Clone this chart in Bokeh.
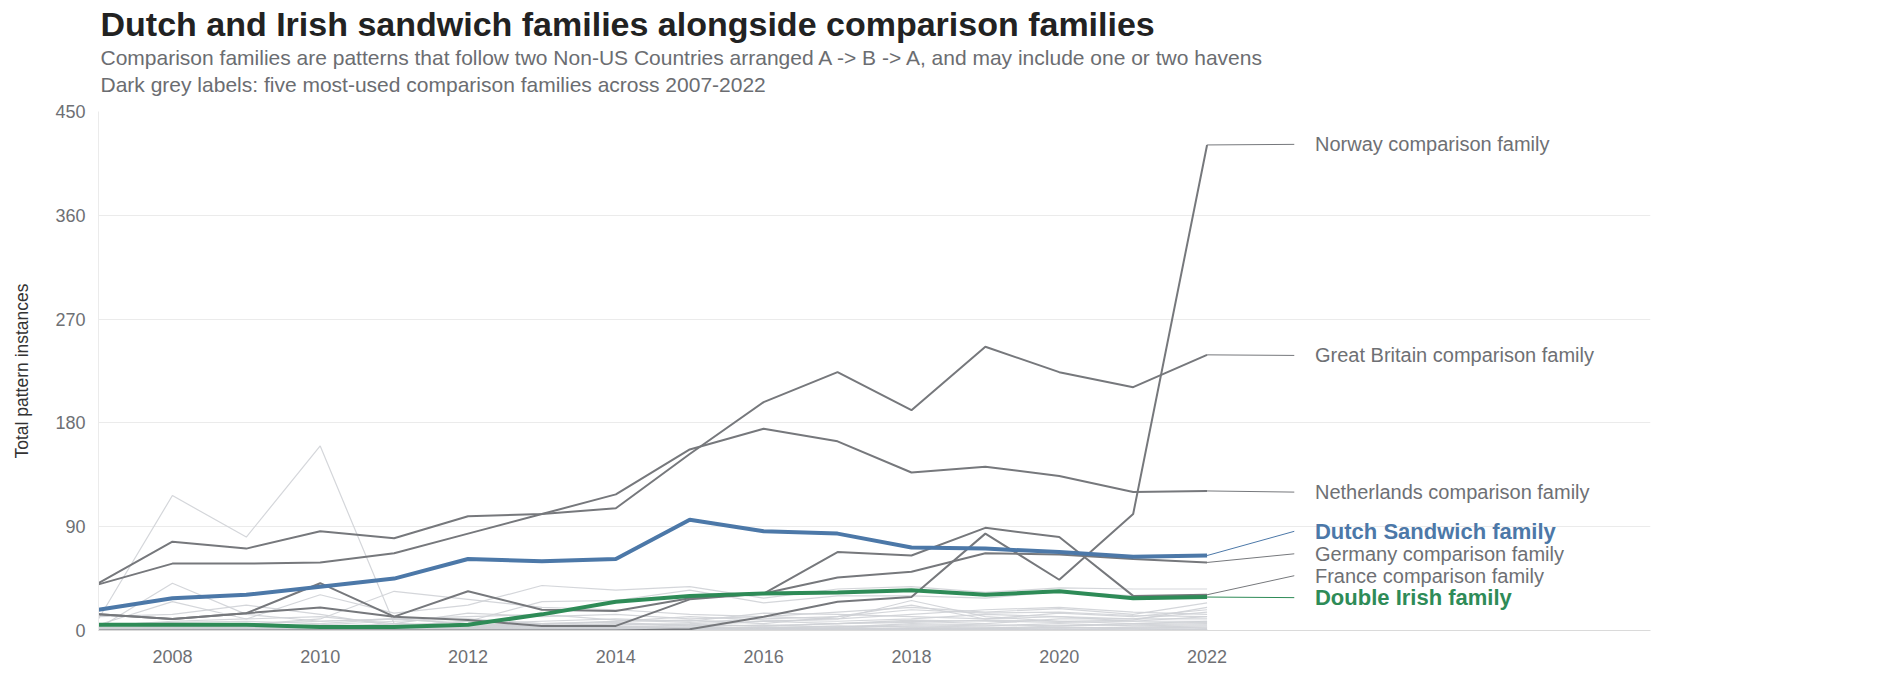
from bokeh.plotting import figure
from bokeh.models import Range1d, FixedTicker, ColumnDataSource, Title
from bokeh.core.properties import value
from bokeh.embed import file_html
from bokeh.resources import INLINE

# ---------------- data ----------------
years = list(range(2007, 2023))

norway = [0, 0, 0, 0, 0, 0, 0, 0, 1, 12, 25, 29, 84, 44, 101, 421]
great_britain = [41, 77, 71, 86, 80, 99, 101, 106, 153, 198, 224, 191, 246, 224, 211, 239]
netherlands = [40, 58, 58, 59, 67, 84, 101, 118, 157, 175, 164, 137, 142, 134, 120, 121]
germany = [14, 10, 15, 20, 12, 9, 4, 4, 27, 32, 46, 51, 67, 66, 62, 59]
france = [14, 10, 15, 41, 12, 34, 18, 17, 28, 32, 68, 65, 89, 81, 30, 31]
dutch_sandwich = [18, 28, 31, 38, 45, 62, 60, 62, 96, 86, 84, 72, 71, 68, 64, 65]
double_irish = [5, 5, 5, 3, 3, 5, 14, 25, 30, 32, 33, 35, 31, 34, 28, 29]

# other (unlabelled) comparison families
others = [
    [10, 117, 81, 160, 6, 4, 3, 2, 2, 1, 1, 2, 1, 1, 0, 1],
    [2, 41, 14, 8, 10, 6, 4, 3, 2, 2, 1, 1, 1, 1, 0, 1],
    [5, 25, 10, 31, 15, 22, 39, 35, 38, 28, 36, 38, 33, 37, 36, 36],
    [0, 3, 5, 10, 34, 27, 20, 18, 14, 12, 10, 26, 12, 8, 9, 20],
    [12, 14, 22, 14, 4, 8, 25, 26, 35, 24, 30, 30, 28, 34, 30, 28],
    [4, 8, 10, 12, 6, 15, 12, 14, 10, 12, 16, 20, 16, 19, 14, 24],
    [2, 4, 6, 8, 10, 6, 8, 10, 8, 15, 14, 12, 10, 15, 12, 18],
    [1, 2, 3, 5, 4, 8, 6, 5, 6, 8, 10, 14, 18, 20, 16, 14],
    [6, 5, 4, 3, 6, 4, 5, 8, 9, 6, 12, 22, 10, 12, 8, 12],
    [0, 1, 2, 2, 3, 2, 4, 3, 5, 4, 6, 8, 6, 10, 10, 10],
    [3, 3, 2, 4, 2, 3, 2, 4, 3, 5, 3, 6, 5, 4, 6, 8],
    [1, 0, 1, 1, 2, 1, 2, 2, 3, 2, 4, 3, 2, 4, 5, 6],
    [0, 2, 1, 3, 1, 2, 1, 3, 2, 3, 2, 4, 3, 2, 3, 4],
    [2, 1, 2, 1, 1, 1, 0, 1, 1, 2, 1, 2, 1, 3, 2, 2],
    [0, 0, 1, 0, 1, 0, 1, 1, 0, 1, 1, 1, 2, 1, 1, 1],
    [4, 6, 3, 5, 8, 10, 6, 8, 12, 9, 8, 10, 14, 12, 10, 16],
    [0, 1, 0, 2, 0, 1, 2, 0, 1, 0, 2, 1, 0, 1, 2, 3],
    [5, 7, 8, 6, 10, 12, 14, 9, 7, 10, 12, 18, 15, 16, 13, 12],
    [1, 3, 4, 2, 5, 3, 6, 7, 4, 8, 6, 9, 8, 7, 8, 8],
    [0, 0, 0, 1, 1, 2, 1, 2, 2, 3, 3, 5, 4, 6, 4, 5],
    [3, 2, 4, 3, 2, 5, 4, 6, 5, 4, 6, 7, 9, 8, 6, 7],
    [0, 1, 1, 0, 0, 0, 1, 0, 0, 1, 0, 0, 1, 0, 0, 1],
]

label_names = ["Norway comparison family", "Great Britain comparison family",
               "Netherlands comparison family", "Dutch Sandwich family",
               "Germany comparison family", "France comparison family",
               "Double Irish family"]
label_series = [norway, great_britain, netherlands, dutch_sandwich, germany, france, double_irish]

x_ticks = [2008, 2010, 2012, 2014, 2016, 2018, 2020, 2022]
y_ticks = [0, 90, 180, 270, 360, 450]

title_text = "Dutch and Irish sandwich families alongside comparison families"
subtitle_1 = "Comparison families are patterns that follow two Non-US Countries arranged A -> B -> A, and may include one or two havens"
subtitle_2 = "Dark grey labels: five most-used comparison families across 2007-2022"

# ---------------- layout / style ----------------
label_y = [421.5, 238.5, 120, 86, 66.5, 47.5, 28.5]   # de-collided label positions
label_color = ["#6e7074", "#6e7074", "#6e7074", "#4c78a8", "#6e7074", "#6e7074", "#2e8b57"]
line_color = ["#76787c", "#76787c", "#76787c", "#4c78a8", "#76787c", "#76787c", "#2e8b57"]
label_bold = [False, False, False, True, False, False, True]
LEADER_END = 2023.18
TEXT_X = 2023.46
FONT = "Liberation Sans"

p = figure(width=1900, height=690, output_backend="svg", toolbar_location=None,
           title=None,
           x_range=Range1d(2007, 2028), y_range=Range1d(0, 450),
           min_border_left=98, min_border_right=250, min_border_top=111,
           min_border_bottom=60)
p.outline_line_color = None
p.background_fill_color = "white"
p.border_fill_color = "white"

p.xgrid.grid_line_color = None
p.ygrid.ticker = FixedTicker(ticks=y_ticks)
p.ygrid.grid_line_color = "#ebebeb"
p.ygrid.grid_line_width = 1

p.xaxis.ticker = FixedTicker(ticks=x_ticks)
p.yaxis.ticker = FixedTicker(ticks=y_ticks)
for ax in (p.xaxis[0], p.yaxis[0]):
    ax.major_tick_line_color = None
    ax.minor_tick_line_color = None
    ax.major_label_text_font = FONT
    ax.major_label_text_font_size = "18px"
    ax.major_label_text_color = "#6e7074"
p.xaxis.axis_line_color = "#dadada"
p.yaxis.axis_line_color = "#ebebeb"
p.xaxis.major_label_standoff = 13
p.yaxis.major_label_standoff = 7
p.yaxis.axis_label = "Total pattern instances"
p.yaxis.axis_label_text_font = FONT
p.yaxis.axis_label_text_font_size = "17.5px"
p.yaxis.axis_label_text_font_style = "normal"
p.yaxis.axis_label_text_color = "#333333"
p.yaxis.axis_label_standoff = 20

# other families (light grey)
src_others = ColumnDataSource(dict(xs=[years] * len(others), ys=others))
p.multi_line("xs", "ys", source=src_others, line_color="#cfd2d6", line_width=1.2, line_alpha=0.9)

# labelled dark grey comparison families
for s in [norway, great_britain, netherlands, germany, france]:
    p.line(years, s, line_color="#76787c", line_width=2)

p.line(years, double_irish, line_color="#2e8b57", line_width=4)
p.line(years, dutch_sandwich, line_color="#4c78a8", line_width=4)

# leader lines
lead = ColumnDataSource(dict(
    x0=[years[-1]] * len(label_series),
    y0=[s[-1] for s in label_series],
    x1=[LEADER_END] * len(label_series),
    y1=label_y,
    c=line_color,
))
p.segment("x0", "y0", "x1", "y1", source=lead, line_color="c", line_width=1)

norm = ColumnDataSource(dict(
    x=[TEXT_X for b in label_bold if not b],
    y=[y for y, b in zip(label_y, label_bold) if not b],
    t=[n for n, b in zip(label_names, label_bold) if not b],
    c=[c for c, b in zip(label_color, label_bold) if not b],
))
bold = ColumnDataSource(dict(
    x=[TEXT_X for b in label_bold if b],
    y=[y for y, b in zip(label_y, label_bold) if b],
    t=[n for n, b in zip(label_names, label_bold) if b],
    c=[c for c, b in zip(label_color, label_bold) if b],
))
p.text("x", "y", text="t", source=norm, text_color="c", text_font=value(FONT),
       text_font_size="20px", text_baseline="middle", text_align="left")
p.text("x", "y", text="t", source=bold, text_color="c", text_font=value(FONT),
       text_font_size="22px", text_font_style="bold", text_baseline="middle", text_align="left")

# titles (stacked above the frame; later added sits higher)
# small spacer between the frame and the subtitle block
p.add_layout(Title(text=" ", text_font=FONT, text_font_size="2px",
                   align="left", offset=2, standoff=9), "above")
p.add_layout(Title(text=subtitle_2, text_font=FONT, text_font_size="21px",
                   text_font_style="normal", text_color="#6b6d71",
                   align="left", offset=2, standoff=5), "above")
p.add_layout(Title(text=subtitle_1, text_font=FONT, text_font_size="21px",
                   text_font_style="normal", text_color="#6b6d71",
                   align="left", offset=2, standoff=0), "above")
p.add_layout(Title(text=title_text, text_font=FONT, text_font_size="34px",
                   text_font_style="bold", text_color="#222222",
                   align="left", offset=2, standoff=1), "above")

open("out.html", "w").write(file_html(p, INLINE))
